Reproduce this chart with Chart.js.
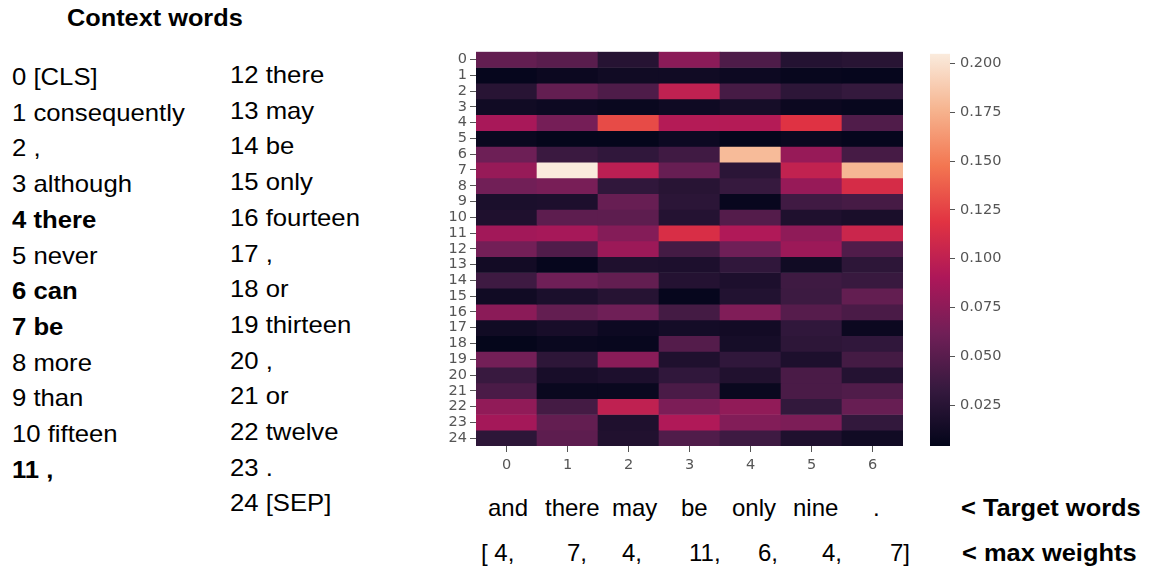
<!DOCTYPE html>
<html>
<head>
<meta charset="utf-8">
<script src="https://cdn.jsdelivr.net/npm/chart.js@4/dist/chart.umd.min.js"></script>
<style>
  body { margin: 0; background: #fff; width: 1151px; height: 571px; position: relative; overflow: hidden;
         font-family: "Liberation Sans", Arial, sans-serif; color: #000; }
  .txt { position: absolute; font-size: 24px; line-height: 36px; white-space: pre; transform-origin: 0 0; }
  .b { font-weight: bold; }
  #heat { position: absolute; left: 430px; top: 40px; }
  #cbar { position: absolute; left: 915px; top: 40px; }
</style>
</head>
<body>
<div class="txt b" style="left:67px; top:0px; font-size:23px; transform: scaleX(1.1);">Context words</div>
<div id="col1" class="txt" style="left:12px; top:59px; transform: scaleX(1.07);"></div>
<div id="col2" class="txt" style="left:230px; top:57px; transform: scaleX(1.07);"></div>
<div id="targets"></div>
<canvas id="heat" width="480" height="445"></canvas>
<canvas id="cbar" width="100" height="445"></canvas>
<script>
"use strict";

// context words (rows of the heatmap)
const contextWords = ["[CLS]", "consequently", ",", "although", "there", "never", "can", "be",
  "more", "than", "fifteen", ",", "there", "may", "be", "only", "fourteen", ",", "or",
  "thirteen", ",", "or", "twelve", ".", "[SEP]"];
// target words (columns)
const targetWords = ["and", "there", "may", "be", "only", "nine", "."];
const colLabels = ["0", "1", "2", "3", "4", "5", "6"];
const rowLabels = contextWords.map((w, i) => String(i));
const maxWeights = [4, 7, 4, 11, 6, 4, 7];
const cbarTicks = [0.025, 0.05, 0.075, 0.1, 0.125, 0.15, 0.175, 0.2];
const vmin = 0.004;
const vmax = 0.205;

// attention weights, one row per context word, one value per target word
const w0  = [0.055, 0.050, 0.024, 0.074, 0.045, 0.023, 0.025];
const w1  = [0.006, 0.009, 0.012, 0.012, 0.010, 0.007, 0.006];
const w2  = [0.025, 0.055, 0.045, 0.100, 0.041, 0.028, 0.032];
const w3  = [0.012, 0.010, 0.008, 0.011, 0.015, 0.009, 0.007];
const w4  = [0.088, 0.064, 0.129, 0.094, 0.094, 0.118, 0.046];
const w5  = [0.008, 0.005, 0.005, 0.010, 0.005, 0.008, 0.006];
const w6  = [0.060, 0.035, 0.030, 0.038, 0.180, 0.080, 0.041];
const w7  = [0.080, 0.205, 0.098, 0.057, 0.027, 0.101, 0.178];
const w8  = [0.062, 0.065, 0.030, 0.025, 0.033, 0.080, 0.112];
const w9  = [0.018, 0.019, 0.057, 0.027, 0.007, 0.038, 0.041];
const w10 = [0.020, 0.052, 0.052, 0.023, 0.048, 0.020, 0.017];
const w11 = [0.085, 0.087, 0.071, 0.114, 0.092, 0.076, 0.106];
const w12 = [0.063, 0.046, 0.082, 0.040, 0.061, 0.082, 0.046];
const w13 = [0.013, 0.006, 0.020, 0.019, 0.030, 0.012, 0.028];
const w14 = [0.037, 0.061, 0.055, 0.023, 0.019, 0.037, 0.034];
const w15 = [0.012, 0.018, 0.024, 0.006, 0.022, 0.036, 0.055];
const w16 = [0.074, 0.055, 0.061, 0.040, 0.069, 0.049, 0.043];
const w17 = [0.012, 0.016, 0.010, 0.014, 0.013, 0.030, 0.009];
const w18 = [0.005, 0.008, 0.007, 0.048, 0.015, 0.028, 0.030];
const w19 = [0.063, 0.028, 0.073, 0.020, 0.030, 0.019, 0.040];
const w20 = [0.034, 0.016, 0.019, 0.030, 0.021, 0.043, 0.023];
const w21 = [0.043, 0.008, 0.008, 0.043, 0.008, 0.043, 0.046];
const w22 = [0.077, 0.040, 0.100, 0.067, 0.077, 0.031, 0.057];
const w23 = [0.086, 0.055, 0.020, 0.092, 0.070, 0.067, 0.031];
const w24 = [0.028, 0.052, 0.021, 0.046, 0.037, 0.020, 0.012];
const weights = [w0, w1, w2, w3, w4, w5, w6, w7, w8, w9, w10, w11, w12, w13, w14, w15,
  w16, w17, w18, w19, w20, w21, w22, w23, w24];

/* seaborn "rocket" colormap, approximated by a few stops */
const rocketStops = [
  [0, [3, 5, 26]], [1 / 7, [53, 25, 62]], [2 / 7, [112, 31, 87]], [3 / 7, [173, 23, 89]],
  [4 / 7, [225, 51, 66]], [5 / 7, [243, 118, 81]], [6 / 7, [246, 180, 143]], [1, [250, 235, 221]]
];
function rocket(t) {
  t = Math.max(0, Math.min(1, t));
  for (let i = 1; i < rocketStops.length; i++) {
    if (t <= rocketStops[i][0]) {
      let a = rocketStops[i - 1], b = rocketStops[i];
      let f = (t - a[0]) / (b[0] - a[0]);
      let c = a[1].map((v, k) => Math.round(v + (b[1][k] - v) * f));
      return "rgb(" + c.join(",") + ")";
    }
  }
  return "rgb(250,235,221)";
}
function colorOf(v) {
  return rocket((v - vmin) / (vmax - vmin));
}

// text lists on the left, rows that hold a max weight in bold
let boldRows = maxWeights;
function lineHtml(i) {
  let s = i + " " + contextWords[i];
  return boldRows.includes(i) ? '<span class="b">' + s + "</span>" : s;
}
let col1 = [], col2 = [];
for (let i = 0; i < contextWords.length; i++) {
  (i < 12 ? col1 : col2).push(lineHtml(i));
}
document.getElementById("col1").innerHTML = col1.join("<br>");
document.getElementById("col2").innerHTML = col2.join("<br>");
document.getElementById("col1").style.lineHeight = "35.7px";
document.getElementById("col2").style.lineHeight = "35.7px";

// target words and max weights under the heatmap
const targetLeft = [488, 545, 612, 681, 732, 793, 873];
const weightLeft = [488, 567, 622, 689, 758, 822, 890];
let html = "";
targetWords.forEach((t, i) => {
  html += '<div class="txt" style="left:' + targetLeft[i] + 'px; top:490px;">' + t + "</div>";
});
maxWeights.forEach((m, i) => {
  let s = (i === 0 ? "[ " : "") + m + (i === maxWeights.length - 1 ? "]" : ",");
  let left = weightLeft[i] - (i === 0 ? 7 : 0);
  html += '<div class="txt" style="left:' + left + 'px; top:535px;">' + s + "</div>";
});
html += '<div class="txt b" style="left:961px; top:490px; transform: scaleX(1.06);">&lt; Target words</div>';
html += '<div class="txt b" style="left:962px; top:535px; transform: scaleX(1.06);">&lt; max weights</div>';
document.getElementById("targets").innerHTML = html;

const tickFont = { family: "DejaVu Sans", size: 14.5 };
const tickColor = "#555";

// heatmap: one floating bar per cell, one dataset per row
let datasets = weights.map((row, r) => ({
  label: rowLabels[r],
  data: row.map(() => [r, r + 1]),
  backgroundColor: row.map(v => colorOf(v)),
  borderWidth: 0,
  barPercentage: 1,
  categoryPercentage: 1,
  grouped: false
}));

new Chart(document.getElementById("heat"), {
  type: "bar",
  data: { labels: colLabels, datasets: datasets },
  options: {
    responsive: false,
    animation: false,
    layout: { padding: { top: 8, right: 7, left: 0, bottom: 0 } },
    plugins: { legend: { display: false }, tooltip: { enabled: false } },
    scales: {
      x: {
        type: "category",
        offset: true,
        grid: { display: true, drawOnChartArea: false, offset: false, tickLength: 6, color: tickColor },
        border: { display: false },
        ticks: { font: tickFont, color: tickColor, padding: 5, maxRotation: 0 },
        afterFit: s => { s.height = 39; }
      },
      y: {
        type: "linear",
        reverse: true,
        min: 0,
        max: rowLabels.length,
        grid: { display: true, drawOnChartArea: false, tickLength: 6, color: tickColor },
        border: { display: false },
        afterBuildTicks: axis => { axis.ticks = rowLabels.map((l, i) => ({ value: i + 0.5 })); },
        ticks: {
          font: tickFont, color: tickColor, padding: 3, autoSkip: false,
          callback: v => rowLabels[Math.round(v - 0.5)]
        },
        afterFit: s => { s.width = 46; }
      }
    }
  }
});

// colorbar: a single floating bar from vmin to vmax with the colormap as fill
new Chart(document.getElementById("cbar"), {
  type: "bar",
  data: {
    labels: [""],
    datasets: [{
      data: [[vmin, vmax]],
      borderWidth: 0,
      barPercentage: 1,
      categoryPercentage: 1,
      backgroundColor: ctx => {
        let chart = ctx.chart;
        if (!chart.chartArea) return "#000";
        let y = chart.scales.y;
        let g = chart.ctx.createLinearGradient(0, y.getPixelForValue(vmin), 0, y.getPixelForValue(vmax));
        for (let i = 0; i < rocketStops.length; i++) {
          g.addColorStop(rocketStops[i][0], rocket(rocketStops[i][0]));
        }
        return g;
      }
    }]
  },
  options: {
    responsive: false,
    animation: false,
    layout: { padding: { top: 8, left: 15, right: 0, bottom: 39 } },
    plugins: { legend: { display: false }, tooltip: { enabled: false } },
    scales: {
      x: { display: false },
      y: {
        position: "right",
        min: vmin,
        max: vmax,
        grid: { display: true, drawOnChartArea: false, tickLength: 5, color: tickColor },
        border: { display: false },
        afterBuildTicks: axis => { axis.ticks = cbarTicks.map(v => ({ value: v })); },
        ticks: { font: tickFont, color: tickColor, padding: 5, callback: v => v.toFixed(3) },
        afterFit: s => { s.width = 65; }
      }
    }
  }
});
</script>
</body>
</html>
